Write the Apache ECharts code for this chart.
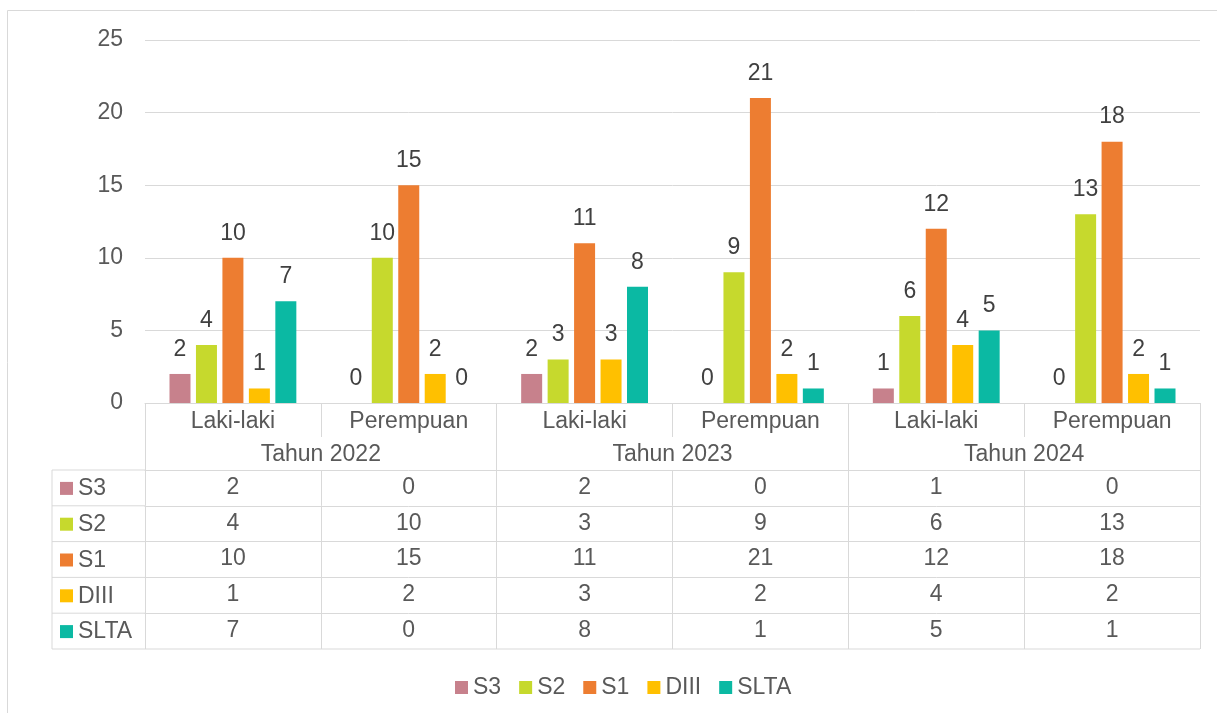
<!DOCTYPE html>
<html>
<head>
<meta charset="utf-8">
<script src="https://cdn.jsdelivr.net/npm/echarts@6/dist/echarts.min.js"></script>
<style>
  html, body { margin: 0; padding: 0; background: #fff; }
  #chart { width: 1217px; height: 713px; }
</style>
</head>
<body>
<div id="chart"></div>
<script>
// data
var categories = ['Laki-laki', 'Perempuan', 'Laki-laki', 'Perempuan', 'Laki-laki', 'Perempuan'];
var years = ['Tahun 2022', 'Tahun 2023', 'Tahun 2024'];
var seriesNames = ['S3', 'S2', 'S1', 'DIII', 'SLTA'];
var s3 = [2, 0, 2, 0, 1, 0];
var s2 = [4, 10, 3, 9, 6, 13];
var s1 = [10, 15, 11, 21, 12, 18];
var diii = [1, 2, 3, 2, 4, 2];
var slta = [7, 0, 8, 1, 5, 1];
var yTicks = [0, 5, 10, 15, 20, 25];

var values = [s3, s2, s1, diii, slta];
var colors = ['#C7818C', '#C6D92D', '#ED7D31', '#FFC000', '#0BB9A3'];

var FONT = 'Liberation Sans, Arial, sans-serif';
var FS = 23;
var TXT = '#595959';
var LINE = '#D9D9D9';

// layout of the table under the plot
var plotBottom = 403;
var rowH = 35.8;
var tableTop = 470;
var keyLeft = 52;
var plotLeft = 145;

var chart = echarts.init(document.getElementById('chart'));

var xAxes = [{
    type: 'category',
    data: categories,
    position: 'bottom',
    axisLine: { lineStyle: { color: LINE, width: 1 } },
    axisTick: { show: true, interval: 0, length: 34, lineStyle: { color: LINE } },
    axisLabel: { interval: 0, margin: 7, fontSize: FS, color: TXT, fontFamily: FONT }
}, {
    type: 'category',
    data: years,
    position: 'bottom',
    offset: 34,
    axisLine: { show: false },
    axisTick: { show: true, interval: 0, length: 33, lineStyle: { color: LINE } },
    axisLabel: { interval: 0, margin: 6, fontSize: FS, color: TXT, fontFamily: FONT }
}];

// one axis per table row
for (var i = 0; i < values.length; i++) {
    xAxes.push({
        type: 'category',
        data: values[i].map(String),
        position: 'bottom',
        offset: tableTop - plotBottom + i * rowH,
        axisLine: { show: true, lineStyle: { color: LINE } },
        axisTick: { show: true, interval: 0, length: rowH, lineStyle: { color: LINE } },
        axisLabel: { interval: 0, margin: 6, fontSize: FS, color: TXT, fontFamily: FONT }
    });
}

var series = seriesNames.map(function (name, i) {
    return {
        name: name,
        type: 'bar',
        xAxisIndex: 0,
        data: values[i],
        barWidth: 21,
        barGap: '26%',
        itemStyle: { color: colors[i] },
        label: {
            show: true,
            position: 'top',
            distance: 13,
            fontSize: FS,
            color: '#404040',
            fontFamily: FONT
        }
    };
});

// legend keys and frame of the table's first column
var graphics = [{
    type: 'rect',
    shape: { x: 7.5, y: 10.5, width: 1240, height: 740 },
    style: { fill: null, stroke: LINE, lineWidth: 1 },
    silent: true
}];
var tableBottom = tableTop + rowH * values.length;
graphics.push({
    type: 'line',
    shape: { x1: keyLeft, y1: tableTop, x2: keyLeft, y2: tableBottom },
    style: { stroke: LINE, lineWidth: 1 }
});
graphics.push({
    type: 'line',
    shape: { x1: keyLeft, y1: tableBottom, x2: 1200, y2: tableBottom },
    style: { stroke: LINE, lineWidth: 1 }
});
seriesNames.forEach(function (name, i) {
    var y = tableTop + i * rowH;
    graphics.push({
        type: 'line',
        shape: { x1: keyLeft, y1: y, x2: plotLeft, y2: y },
        style: { stroke: LINE, lineWidth: 1 }
    });
    graphics.push({
        type: 'rect',
        shape: { x: 60, y: y + rowH / 2 - 6, width: 13, height: 13 },
        style: { fill: colors[i] }
    });
    graphics.push({
        type: 'text',
        x: 78,
        y: y + rowH / 2 + 1,
        style: { text: name, fontSize: FS, fill: TXT, fontFamily: FONT, verticalAlign: 'middle' }
    });
});

chart.setOption({
    animation: false,
    textStyle: { fontFamily: FONT },
    legend: {
        data: seriesNames,
        left: 450,
        top: 671,
        icon: 'rect',
        itemWidth: 13,
        itemHeight: 13,
        itemGap: 18,
        textStyle: { fontSize: FS, color: TXT, fontFamily: FONT }
    },
    grid: {
        left: plotLeft,
        right: 17,
        top: 40,
        bottom: 713 - plotBottom,
        containLabel: false,
        outerBoundsMode: 'none'
    },
    xAxis: xAxes,
    yAxis: {
        type: 'value',
        min: yTicks[0],
        max: yTicks[yTicks.length - 1],
        interval: 5,
        axisLine: { show: false },
        axisTick: { show: false },
        splitLine: { lineStyle: { color: LINE, width: 1 } },
        axisLabel: { margin: 22, fontSize: FS, color: TXT, fontFamily: FONT }
    },
    graphic: graphics,
    series: series
});
</script>
</body>
</html>
